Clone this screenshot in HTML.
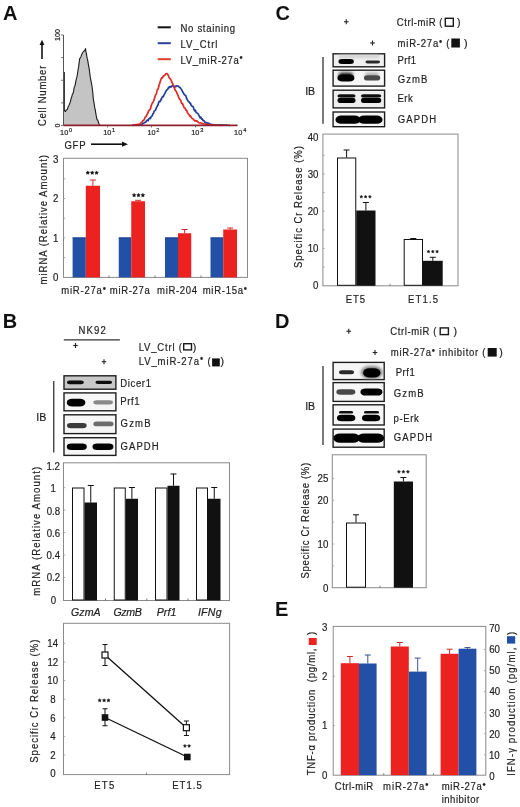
<!DOCTYPE html>
<html><head><meta charset="utf-8"><style>
html,body{margin:0;padding:0;background:#fff;}
svg{display:block;font-family:"Liberation Sans", sans-serif;will-change:transform;}
</style></head><body>
<svg width="520" height="807" viewBox="0 0 520 807">
<rect width="520" height="807" fill="#fff"/>
<text x="0" y="0" font-size="20" fill="#111" font-weight="bold" letter-spacing="0.000" transform="translate(2.90 19.70) scale(1 1)">A</text>
<line x1="157.7" y1="27.3" x2="170.8" y2="27.3" stroke="#111" stroke-width="2"/>
<text x="0" y="0" font-size="10.6" fill="#1e1e1e" stroke="#1e1e1e" stroke-width="0.2" letter-spacing="0.754" transform="translate(180.54 31.50) scale(0.9 1)">No staining</text>
<line x1="157.7" y1="43.2" x2="170.8" y2="43.2" stroke="#2a3fa0" stroke-width="2"/>
<text x="0" y="0" font-size="10.6" fill="#1e1e1e" stroke="#1e1e1e" stroke-width="0.2" letter-spacing="1.071" transform="translate(180.54 47.50) scale(0.9 1)">LV_Ctrl</text>
<line x1="157.7" y1="59.2" x2="170.8" y2="59.2" stroke="#e0402a" stroke-width="2"/>
<text x="0" y="0" font-size="10.6" fill="#1e1e1e" stroke="#1e1e1e" stroke-width="0.2" letter-spacing="0.742" transform="translate(180.54 63.50) scale(0.9 1)">LV_miR-27a<tspan baseline-shift="0.24em" font-size="0.95em">•</tspan></text>
<path d="M64.00,125.50 L64.30,72.00 L64.30,110.40 L64.95,111.10 L67.40,109.20 L69.30,104.30 L71.10,99.30 L73.00,93.10 L74.20,88.20 L76.10,79.50 L77.30,75.80 L78.60,67.10 L79.60,59.70 L81.00,57.20 L82.30,53.50 L83.50,51.00 L84.80,50.40 L85.50,48.60 L86.20,52.90 L87.20,58.50 L89.10,67.10 L90.30,77.00 L92.20,88.20 L93.40,99.30 L95.30,110.40 L97.10,119.10 L99.00,124.00 L100.00,125.50 L100.00,125.50 Z" fill="#c4c4c4" stroke="none" stroke-width="1" stroke-linejoin="round"/>
<path d="M64.30,110.30 L64.95,111.22 L65.56,111.47 L66.18,110.08 L66.79,109.69 L67.40,109.37 L68.03,106.94 L68.67,105.96 L69.30,104.56 L70.20,102.39 L71.10,98.49 L71.73,96.84 L72.37,94.35 L73.00,93.72 L73.60,91.04 L74.20,87.28 L74.83,86.26 L75.47,83.33 L76.10,79.81 L76.70,77.88 L77.30,75.11 L77.95,70.48 L78.60,67.16 L79.60,58.82 L80.30,57.83 L81.00,56.68 L81.65,54.41 L82.30,53.43 L82.90,52.13 L83.50,51.68 L84.15,50.74 L84.80,50.68 L85.50,48.60 L86.20,53.22 L87.20,58.41 L87.83,60.92 L88.47,65.23 L89.10,68.09 L89.70,72.73 L90.30,77.42 L90.93,80.36 L91.57,83.93 L92.20,87.78 L92.80,92.89 L93.40,99.83 L94.03,102.80 L94.67,107.39 L95.30,110.17 L96.20,115.67 L97.10,119.79 L97.73,119.97 L98.37,122.08 L99.00,124.00 L100.00,125.50" fill="none" stroke="#1a1a1a" stroke-width="1.1" stroke-linejoin="round"/>
<line x1="64.3" y1="72" x2="64.3" y2="111" stroke="#1a1a1a" stroke-width="1.1"/>
<path d="M140.00,125.30 L140.74,124.87 L141.49,124.44 L142.23,124.01 L142.97,123.44 L143.71,123.19 L144.46,122.62 L145.20,122.40 L145.90,121.93 L146.60,120.67 L147.30,120.00 L148.00,120.79 L148.70,119.25 L149.55,118.09 L150.40,118.54 L151.25,116.42 L152.10,116.07 L152.80,114.13 L153.50,113.24 L154.20,111.04 L154.90,110.79 L155.60,110.04 L156.45,107.62 L157.30,106.33 L158.15,104.47 L159.00,101.53 L159.87,101.75 L160.73,100.25 L161.60,98.50 L162.47,96.53 L163.33,96.76 L164.20,94.55 L165.10,92.89 L166.00,91.06 L166.83,89.86 L167.67,89.41 L168.50,87.49 L169.27,87.74 L170.03,86.46 L170.80,86.87 L171.53,86.96 L172.25,85.59 L172.97,85.87 L173.70,86.23 L174.40,87.57 L175.10,86.35 L175.80,86.57 L176.50,85.76 L177.20,86.01 L177.90,86.11 L178.60,86.38 L179.30,87.19 L180.00,87.53 L180.70,88.51 L181.57,89.50 L182.43,91.42 L183.30,92.71 L184.13,94.42 L184.97,95.21 L185.80,95.63 L186.67,98.49 L187.53,100.16 L188.40,101.51 L189.10,101.86 L189.80,103.17 L190.50,103.18 L191.20,105.44 L191.90,105.95 L192.60,106.41 L193.30,107.01 L194.00,109.63 L194.70,110.94 L195.40,110.18 L196.25,112.70 L197.10,113.02 L197.95,113.60 L198.80,114.99 L199.50,116.80 L200.20,117.87 L200.90,117.07 L201.60,119.07 L202.30,118.85 L203.15,120.71 L204.00,120.76 L204.85,122.11 L205.70,122.78 L206.44,122.60 L207.19,123.30 L207.93,123.07 L208.67,123.25 L209.41,123.80 L210.16,124.10 L210.90,124.40 L211.64,124.49 L212.39,124.57 L213.13,124.66 L213.87,124.74 L214.61,124.83 L215.36,124.91 L216.10,125.00 L216.83,125.02 L217.56,125.03 L218.29,125.05 L219.03,125.06 L219.76,125.08 L220.49,125.09 L221.22,125.11 L221.95,125.13 L222.68,125.14 L223.42,125.16 L224.15,125.17 L224.88,125.19 L225.61,125.21 L226.34,125.22 L227.07,125.24 L227.81,125.25 L228.54,125.27 L229.27,125.28 L230.00,125.30" fill="none" stroke="#1f3f9a" stroke-width="1.7" stroke-linejoin="round"/>
<path d="M132.00,125.30 L132.73,125.18 L133.45,125.06 L134.18,124.95 L134.91,124.83 L135.64,124.71 L136.36,124.59 L137.09,124.47 L137.82,124.35 L138.55,124.24 L139.27,124.12 L140.00,124.00 L140.70,123.20 L141.40,122.33 L142.10,122.13 L142.80,120.71 L143.50,120.66 L144.35,119.03 L145.20,117.12 L146.05,116.71 L146.90,114.47 L147.60,113.87 L148.30,111.74 L149.00,110.38 L149.70,109.65 L150.40,109.05 L151.25,105.50 L152.10,103.55 L152.95,102.20 L153.80,100.70 L154.67,97.65 L155.53,94.99 L156.40,93.85 L157.27,89.69 L158.13,89.02 L159.00,85.58 L159.87,82.69 L160.73,80.04 L161.60,77.82 L162.47,77.97 L163.33,75.83 L164.20,75.76 L164.90,75.18 L165.60,73.94 L166.30,73.60 L167.03,73.59 L167.77,74.55 L168.50,75.81 L169.27,77.93 L170.03,78.59 L170.80,79.53 L171.85,82.22 L172.90,84.11 L173.77,85.83 L174.63,88.86 L175.50,90.70 L176.37,91.52 L177.23,93.92 L178.10,95.55 L178.97,97.98 L179.83,99.43 L180.70,100.28 L181.57,103.36 L182.43,103.34 L183.30,105.64 L184.13,107.78 L184.97,108.04 L185.80,110.18 L186.67,110.41 L187.53,112.80 L188.40,114.13 L189.10,114.63 L189.80,116.11 L190.50,115.87 L191.20,117.51 L191.90,118.19 L192.60,118.68 L193.30,118.95 L194.00,120.21 L194.70,120.85 L195.40,120.56 L196.14,121.19 L196.89,120.73 L197.63,121.92 L198.37,122.19 L199.11,122.86 L199.86,123.02 L200.60,122.94 L201.33,123.21 L202.06,123.57 L202.79,123.40 L203.51,123.84 L204.24,124.03 L204.97,124.21 L205.70,124.40 L206.42,124.46 L207.13,124.52 L207.85,124.58 L208.56,124.65 L209.28,124.71 L209.99,124.77 L210.71,124.83 L211.42,124.89 L212.14,124.95 L212.85,125.02 L213.57,125.08 L214.28,125.14 L215.00,125.20 L215.70,125.21 L216.40,125.22 L217.10,125.23 L217.80,125.24 L218.50,125.25 L219.20,125.26 L219.90,125.27 L220.60,125.28 L221.30,125.29 L222.00,125.30" fill="none" stroke="#e02a2a" stroke-width="1.7" stroke-linejoin="round"/>
<line x1="63.5" y1="35" x2="63.5" y2="125.5" stroke="#555" stroke-width="1"/>
<line x1="61.0" y1="35" x2="63.5" y2="35" stroke="#555" stroke-width="0.8"/>
<line x1="61.0" y1="57.6" x2="63.5" y2="57.6" stroke="#555" stroke-width="0.8"/>
<line x1="61.0" y1="80.25" x2="63.5" y2="80.25" stroke="#555" stroke-width="0.8"/>
<line x1="61.0" y1="102.9" x2="63.5" y2="102.9" stroke="#555" stroke-width="0.8"/>
<line x1="61.0" y1="125.5" x2="63.5" y2="125.5" stroke="#555" stroke-width="0.8"/>
<line x1="63.5" y1="125.4" x2="237.5" y2="125.4" stroke="#8e1f2c" stroke-width="1.6"/>
<line x1="107.5" y1="125.5" x2="107.5" y2="127.5" stroke="#555" stroke-width="0.8"/>
<line x1="151.5" y1="125.5" x2="151.5" y2="127.5" stroke="#555" stroke-width="0.8"/>
<line x1="195.5" y1="125.5" x2="195.5" y2="127.5" stroke="#555" stroke-width="0.8"/>
<text x="0" y="0" font-size="8" fill="#1e1e1e" stroke="#1e1e1e" stroke-width="0.2" letter-spacing="0.022" transform="translate(60.00 40.94) rotate(-90) scale(0.9 1)">100</text>
<text x="0" y="0" font-size="8" fill="#1e1e1e" stroke="#1e1e1e" stroke-width="0.2" letter-spacing="0.000" transform="translate(60.00 127.59) rotate(-90) scale(0.9 1)">0</text>
<text x="0" y="0" font-size="8" fill="#1e1e1e" stroke="#1e1e1e" stroke-width="0.2" letter-spacing="0.000" transform="translate(60.09 134.80) scale(0.92 1)">10</text>
<text x="0" y="0" font-size="5.6" fill="#1e1e1e" stroke="#1e1e1e" stroke-width="0.2" letter-spacing="0.000" transform="translate(69.08 131.50) scale(1 1)">0</text>
<text x="0" y="0" font-size="8" fill="#1e1e1e" stroke="#1e1e1e" stroke-width="0.2" letter-spacing="0.000" transform="translate(103.19 134.80) scale(0.92 1)">10</text>
<text x="0" y="0" font-size="5.6" fill="#1e1e1e" stroke="#1e1e1e" stroke-width="0.2" letter-spacing="0.000" transform="translate(111.98 131.50) scale(1 1)">1</text>
<text x="0" y="0" font-size="8" fill="#1e1e1e" stroke="#1e1e1e" stroke-width="0.2" letter-spacing="0.000" transform="translate(147.39 134.80) scale(0.92 1)">10</text>
<text x="0" y="0" font-size="5.6" fill="#1e1e1e" stroke="#1e1e1e" stroke-width="0.2" letter-spacing="0.000" transform="translate(156.32 131.50) scale(1 1)">2</text>
<text x="0" y="0" font-size="8" fill="#1e1e1e" stroke="#1e1e1e" stroke-width="0.2" letter-spacing="0.000" transform="translate(191.19 134.80) scale(0.92 1)">10</text>
<text x="0" y="0" font-size="5.6" fill="#1e1e1e" stroke="#1e1e1e" stroke-width="0.2" letter-spacing="0.000" transform="translate(200.18 131.50) scale(1 1)">3</text>
<text x="0" y="0" font-size="8" fill="#1e1e1e" stroke="#1e1e1e" stroke-width="0.2" letter-spacing="0.000" transform="translate(234.09 134.80) scale(0.92 1)">10</text>
<text x="0" y="0" font-size="5.6" fill="#1e1e1e" stroke="#1e1e1e" stroke-width="0.2" letter-spacing="0.000" transform="translate(243.16 131.50) scale(1 1)">4</text>
<text x="0" y="0" font-size="10.6" fill="#1e1e1e" stroke="#1e1e1e" stroke-width="0.2" letter-spacing="0.825" transform="translate(45.90 126.08) rotate(-90) scale(0.9 1)">Cell Number</text>
<line x1="42" y1="59" x2="42" y2="44" stroke="#111" stroke-width="1.6"/>
<path d="M39.60,45.00 L44.40,45.00 L42.00,39.70 Z" fill="#111" stroke="none" stroke-width="1" stroke-linejoin="round"/>
<text x="0" y="0" font-size="10.6" fill="#1e1e1e" stroke="#1e1e1e" stroke-width="0.2" letter-spacing="0.861" transform="translate(64.42 148.50) scale(0.9 1)">GFP</text>
<line x1="91" y1="144.2" x2="123" y2="144.2" stroke="#111" stroke-width="1.6"/>
<path d="M122.00,141.60 L122.00,146.80 L128.00,144.20 Z" fill="#111" stroke="none" stroke-width="1" stroke-linejoin="round"/>
<rect x="63.50" y="158.30" width="184.00" height="119.10" fill="none" stroke="#8a8a8a" stroke-width="1"/>
<text x="0" y="0" font-size="11" fill="#1e1e1e" stroke="#1e1e1e" stroke-width="0.2" letter-spacing="0.000" transform="translate(53.01 281.15) scale(0.88 1)">0</text>
<text x="0" y="0" font-size="11" fill="#1e1e1e" stroke="#1e1e1e" stroke-width="0.2" letter-spacing="0.000" transform="translate(53.11 241.75) scale(0.88 1)">1</text>
<text x="0" y="0" font-size="11" fill="#1e1e1e" stroke="#1e1e1e" stroke-width="0.2" letter-spacing="0.000" transform="translate(53.11 202.35) scale(0.88 1)">2</text>
<text x="0" y="0" font-size="11" fill="#1e1e1e" stroke="#1e1e1e" stroke-width="0.2" letter-spacing="0.000" transform="translate(53.06 162.95) scale(0.88 1)">3</text>
<rect x="72.60" y="237.50" width="13.20" height="39.90" fill="#2150a6" stroke="none" stroke-width="1"/>
<line x1="72.6" y1="237.9" x2="85.8" y2="237.9" stroke="#1a3a80" stroke-width="0.8"/>
<rect x="85.80" y="185.75" width="14.20" height="91.65" fill="#ec2220" stroke="none" stroke-width="1"/>
<line x1="92.9" y1="180" x2="92.9" y2="185.75" stroke="#cc2a2a" stroke-width="1"/>
<line x1="89.9" y1="180" x2="95.9" y2="180" stroke="#cc2a2a" stroke-width="1"/>
<rect x="118.75" y="237.50" width="12.50" height="39.90" fill="#2150a6" stroke="none" stroke-width="1"/>
<line x1="118.75" y1="237.9" x2="131.25" y2="237.9" stroke="#1a3a80" stroke-width="0.8"/>
<rect x="131.25" y="201.25" width="13.75" height="76.15" fill="#ec2220" stroke="none" stroke-width="1"/>
<line x1="138.125" y1="200.3" x2="138.125" y2="201.25" stroke="#cc2a2a" stroke-width="1"/>
<line x1="135.125" y1="200.3" x2="141.125" y2="200.3" stroke="#cc2a2a" stroke-width="1"/>
<rect x="165.00" y="237.50" width="13.00" height="39.90" fill="#2150a6" stroke="none" stroke-width="1"/>
<line x1="165" y1="237.9" x2="178" y2="237.9" stroke="#1a3a80" stroke-width="0.8"/>
<rect x="178.00" y="233.25" width="13.25" height="44.15" fill="#ec2220" stroke="none" stroke-width="1"/>
<line x1="184.625" y1="229.5" x2="184.625" y2="233.25" stroke="#cc2a2a" stroke-width="1"/>
<line x1="181.625" y1="229.5" x2="187.625" y2="229.5" stroke="#cc2a2a" stroke-width="1"/>
<rect x="210.50" y="237.50" width="12.75" height="39.90" fill="#2150a6" stroke="none" stroke-width="1"/>
<line x1="210.5" y1="237.9" x2="223.25" y2="237.9" stroke="#1a3a80" stroke-width="0.8"/>
<rect x="223.25" y="229.50" width="13.75" height="47.90" fill="#ec2220" stroke="none" stroke-width="1"/>
<line x1="230.125" y1="228" x2="230.125" y2="229.5" stroke="#cc2a2a" stroke-width="1"/>
<line x1="227.125" y1="228" x2="233.125" y2="228" stroke="#cc2a2a" stroke-width="1"/>
<path d="M87.80,170.90 L88.36,172.03 L89.61,172.21 L88.70,173.09 L88.92,174.34 L87.80,173.75 L86.68,174.34 L86.90,173.09 L85.99,172.21 L87.24,172.03 Z" fill="#111" stroke="#111" stroke-width="0.5" stroke-linejoin="round"/>
<path d="M92.20,170.90 L92.76,172.03 L94.01,172.21 L93.10,173.09 L93.32,174.34 L92.20,173.75 L91.08,174.34 L91.30,173.09 L90.39,172.21 L91.64,172.03 Z" fill="#111" stroke="#111" stroke-width="0.5" stroke-linejoin="round"/>
<path d="M96.60,170.90 L97.16,172.03 L98.41,172.21 L97.50,173.09 L97.72,174.34 L96.60,173.75 L95.48,174.34 L95.70,173.09 L94.79,172.21 L96.04,172.03 Z" fill="#111" stroke="#111" stroke-width="0.5" stroke-linejoin="round"/>
<path d="M134.10,193.30 L134.66,194.43 L135.91,194.61 L135.00,195.49 L135.22,196.74 L134.10,196.15 L132.98,196.74 L133.20,195.49 L132.29,194.61 L133.54,194.43 Z" fill="#111" stroke="#111" stroke-width="0.5" stroke-linejoin="round"/>
<path d="M138.50,193.30 L139.06,194.43 L140.31,194.61 L139.40,195.49 L139.62,196.74 L138.50,196.15 L137.38,196.74 L137.60,195.49 L136.69,194.61 L137.94,194.43 Z" fill="#111" stroke="#111" stroke-width="0.5" stroke-linejoin="round"/>
<path d="M142.90,193.30 L143.46,194.43 L144.71,194.61 L143.80,195.49 L144.02,196.74 L142.90,196.15 L141.78,196.74 L142.00,195.49 L141.09,194.61 L142.34,194.43 Z" fill="#111" stroke="#111" stroke-width="0.5" stroke-linejoin="round"/>
<text x="0" y="0" font-size="10.6" fill="#1e1e1e" stroke="#1e1e1e" stroke-width="0.2" letter-spacing="1.074" transform="translate(46.70 284.42) rotate(-90) scale(0.9 1)">miRNA (Relative Amount)</text>
<text x="0" y="0" font-size="10.6" fill="#1e1e1e" stroke="#1e1e1e" stroke-width="0.2" letter-spacing="0.842" transform="translate(61.28 293.80) scale(0.9 1)">miR-27a<tspan baseline-shift="0.24em" font-size="0.95em">•</tspan></text>
<text x="0" y="0" font-size="10.6" fill="#1e1e1e" stroke="#1e1e1e" stroke-width="0.2" letter-spacing="0.752" transform="translate(109.78 293.80) scale(0.9 1)">miR-27a</text>
<text x="0" y="0" font-size="10.6" fill="#1e1e1e" stroke="#1e1e1e" stroke-width="0.2" letter-spacing="0.712" transform="translate(157.08 293.80) scale(0.9 1)">miR-204</text>
<text x="0" y="0" font-size="10.6" fill="#1e1e1e" stroke="#1e1e1e" stroke-width="0.2" letter-spacing="0.794" transform="translate(202.68 293.80) scale(0.9 1)">miR-15a<tspan baseline-shift="0.24em" font-size="0.95em">•</tspan></text>
<text x="0" y="0" font-size="20" fill="#111" font-weight="bold" letter-spacing="0.000" transform="translate(2.80 328.20) scale(1 1)">B</text>
<text x="0" y="0" font-size="10.6" fill="#1e1e1e" stroke="#1e1e1e" stroke-width="0.2" letter-spacing="1.330" transform="translate(78.44 334.10) scale(0.9 1)">NK92</text>
<line x1="63.8" y1="339.9" x2="119.9" y2="339.9" stroke="#333" stroke-width="1.4"/>
<line x1="73.2" y1="345.5" x2="77.8" y2="345.5" stroke="#222" stroke-width="1.1"/>
<line x1="75.5" y1="343.0" x2="75.5" y2="348.0" stroke="#222" stroke-width="1.1"/>
<line x1="101.7" y1="361.7" x2="106.3" y2="361.7" stroke="#222" stroke-width="1.1"/>
<line x1="104" y1="359.2" x2="104" y2="364.2" stroke="#222" stroke-width="1.1"/>
<text x="0" y="0" font-size="10.6" fill="#1e1e1e" stroke="#1e1e1e" stroke-width="0.2" letter-spacing="0.888" transform="translate(138.64 350.50) scale(0.9 1)">LV_Ctrl (</text>
<text x="0" y="0" font-size="10.6" fill="#1e1e1e" stroke="#1e1e1e" stroke-width="0.2" letter-spacing="0.998" transform="translate(138.64 364.60) scale(0.9 1)">LV_miR-27a<tspan baseline-shift="0.24em" font-size="0.95em">•</tspan> (</text>
<text x="0" y="0" font-size="10.6" fill="#1e1e1e" stroke="#1e1e1e" stroke-width="0.2" letter-spacing="-0.033" transform="translate(36.35 420.90) scale(1 1)">IB</text>
<line x1="53.75" y1="381" x2="53.75" y2="452.5" stroke="#333" stroke-width="1.3"/>
<text x="0" y="0" font-size="10.6" fill="#1e1e1e" stroke="#1e1e1e" stroke-width="0.2" letter-spacing="0.682" transform="translate(120.34 386.60) scale(0.9 1)">Dicer1</text>
<text x="0" y="0" font-size="10.6" fill="#1e1e1e" stroke="#1e1e1e" stroke-width="0.2" letter-spacing="0.642" transform="translate(120.34 404.80) scale(0.9 1)">Prf1</text>
<text x="0" y="0" font-size="10.6" fill="#1e1e1e" stroke="#1e1e1e" stroke-width="0.2" letter-spacing="1.252" transform="translate(120.62 427.20) scale(0.9 1)">GzmB</text>
<text x="0" y="0" font-size="10.6" fill="#1e1e1e" stroke="#1e1e1e" stroke-width="0.2" letter-spacing="1.118" transform="translate(120.62 450.10) scale(0.9 1)">GAPDH</text>
<rect x="63.50" y="462.80" width="166.00" height="137.70" fill="none" stroke="#8a8a8a" stroke-width="1"/>
<text x="0" y="0" font-size="11" fill="#1e1e1e" stroke="#1e1e1e" stroke-width="0.2" letter-spacing="0.000" transform="translate(46.55 469.95) scale(0.88 1)">1.2</text>
<text x="0" y="0" font-size="11" fill="#1e1e1e" stroke="#1e1e1e" stroke-width="0.2" letter-spacing="0.000" transform="translate(50.59 492.35) scale(0.88 1)">1</text>
<text x="0" y="0" font-size="11" fill="#1e1e1e" stroke="#1e1e1e" stroke-width="0.2" letter-spacing="0.000" transform="translate(46.67 514.65) scale(0.88 1)">0.8</text>
<text x="0" y="0" font-size="11" fill="#1e1e1e" stroke="#1e1e1e" stroke-width="0.2" letter-spacing="0.000" transform="translate(46.70 536.95) scale(0.88 1)">0.6</text>
<text x="0" y="0" font-size="11" fill="#1e1e1e" stroke="#1e1e1e" stroke-width="0.2" letter-spacing="0.000" transform="translate(46.62 559.25) scale(0.88 1)">0.4</text>
<text x="0" y="0" font-size="11" fill="#1e1e1e" stroke="#1e1e1e" stroke-width="0.2" letter-spacing="0.000" transform="translate(46.72 581.45) scale(0.88 1)">0.2</text>
<text x="0" y="0" font-size="11" fill="#1e1e1e" stroke="#1e1e1e" stroke-width="0.2" letter-spacing="0.000" transform="translate(50.71 603.75) scale(0.88 1)">0</text>
<rect x="72.50" y="488.00" width="11.50" height="112.00" fill="#fff" stroke="#111" stroke-width="1"/>
<rect x="84.50" y="502.50" width="12.50" height="98.00" fill="#111" stroke="none" stroke-width="1"/>
<line x1="90.75" y1="485.5" x2="90.75" y2="502.5" stroke="#111" stroke-width="1"/>
<line x1="87.75" y1="485.5" x2="93.75" y2="485.5" stroke="#111" stroke-width="1"/>
<rect x="114.25" y="488.00" width="11.00" height="112.00" fill="#fff" stroke="#111" stroke-width="1"/>
<rect x="125.75" y="498.75" width="12.25" height="101.75" fill="#111" stroke="none" stroke-width="1"/>
<line x1="131.875" y1="487.5" x2="131.875" y2="498.75" stroke="#111" stroke-width="1"/>
<line x1="128.875" y1="487.5" x2="134.875" y2="487.5" stroke="#111" stroke-width="1"/>
<rect x="155.50" y="488.00" width="11.50" height="112.00" fill="#fff" stroke="#111" stroke-width="1"/>
<rect x="167.50" y="485.75" width="12.00" height="114.75" fill="#111" stroke="none" stroke-width="1"/>
<line x1="173.5" y1="474" x2="173.5" y2="485.75" stroke="#111" stroke-width="1"/>
<line x1="170.5" y1="474" x2="176.5" y2="474" stroke="#111" stroke-width="1"/>
<rect x="196.50" y="488.00" width="11.00" height="112.00" fill="#fff" stroke="#111" stroke-width="1"/>
<rect x="208.00" y="498.75" width="12.50" height="101.75" fill="#111" stroke="none" stroke-width="1"/>
<line x1="214.25" y1="487.5" x2="214.25" y2="498.75" stroke="#111" stroke-width="1"/>
<line x1="211.25" y1="487.5" x2="217.25" y2="487.5" stroke="#111" stroke-width="1"/>
<text x="0" y="0" font-size="10.6" fill="#1e1e1e" stroke="#1e1e1e" stroke-width="0.2" letter-spacing="1.212" transform="translate(40.40 595.72) rotate(-90) scale(0.9 1)">mRNA (Relative Amount)</text>
<text x="0" y="0" font-size="10.6" fill="#1e1e1e" stroke="#1e1e1e" stroke-width="0.2" font-style="italic" letter-spacing="0.015" transform="translate(71.07 615.80) scale(1 1)">GzmA</text>
<text x="0" y="0" font-size="10.6" fill="#1e1e1e" stroke="#1e1e1e" stroke-width="0.2" font-style="italic" letter-spacing="-0.356" transform="translate(113.47 615.80) scale(1 1)">GzmB</text>
<text x="0" y="0" font-size="10.6" fill="#1e1e1e" stroke="#1e1e1e" stroke-width="0.2" font-style="italic" letter-spacing="0.023" transform="translate(156.78 615.80) scale(1 1)">Prf1</text>
<text x="0" y="0" font-size="10.6" fill="#1e1e1e" stroke="#1e1e1e" stroke-width="0.2" font-style="italic" letter-spacing="0.260" transform="translate(197.88 615.80) scale(1 1)">IFNg</text>
<rect x="63.50" y="623.30" width="166.10" height="151.30" fill="none" stroke="#8a8a8a" stroke-width="1"/>
<text x="0" y="0" font-size="11" fill="#1e1e1e" stroke="#1e1e1e" stroke-width="0.2" letter-spacing="0.000" transform="translate(50.21 777.45) scale(0.88 1)">0</text>
<text x="0" y="0" font-size="11" fill="#1e1e1e" stroke="#1e1e1e" stroke-width="0.2" letter-spacing="0.000" transform="translate(50.21 758.85) scale(0.88 1)">2</text>
<text x="0" y="0" font-size="11" fill="#1e1e1e" stroke="#1e1e1e" stroke-width="0.2" letter-spacing="0.000" transform="translate(50.24 740.25) scale(0.88 1)">4</text>
<text x="0" y="0" font-size="11" fill="#1e1e1e" stroke="#1e1e1e" stroke-width="0.2" letter-spacing="0.000" transform="translate(50.19 721.65) scale(0.88 1)">6</text>
<text x="0" y="0" font-size="11" fill="#1e1e1e" stroke="#1e1e1e" stroke-width="0.2" letter-spacing="0.000" transform="translate(50.19 703.05) scale(0.88 1)">8</text>
<text x="0" y="0" font-size="11" fill="#1e1e1e" stroke="#1e1e1e" stroke-width="0.2" letter-spacing="0.000" transform="translate(47.36 684.45) scale(0.88 1)">10</text>
<text x="0" y="0" font-size="11" fill="#1e1e1e" stroke="#1e1e1e" stroke-width="0.2" letter-spacing="0.000" transform="translate(47.41 665.85) scale(0.88 1)">12</text>
<text x="0" y="0" font-size="11" fill="#1e1e1e" stroke="#1e1e1e" stroke-width="0.2" letter-spacing="0.000" transform="translate(47.31 647.25) scale(0.88 1)">14</text>
<text x="0" y="0" font-size="10.6" fill="#1e1e1e" stroke="#1e1e1e" stroke-width="0.2" letter-spacing="1.105" transform="translate(38.20 762.73) rotate(-90) scale(0.9 1)">Specific Cr Release (%)</text>
<line x1="105" y1="655" x2="186.4" y2="727.7" stroke="#111" stroke-width="1.3"/>
<line x1="105" y1="717.5" x2="187.3" y2="757" stroke="#111" stroke-width="1.3"/>
<line x1="105" y1="644.5" x2="105" y2="665.5" stroke="#111" stroke-width="1"/>
<line x1="102.5" y1="644.5" x2="107.5" y2="644.5" stroke="#111" stroke-width="1"/>
<line x1="102.5" y1="665.5" x2="107.5" y2="665.5" stroke="#111" stroke-width="1"/>
<rect x="102.00" y="652.00" width="6.00" height="6.00" fill="#fff" stroke="#111" stroke-width="1.2"/>
<line x1="105" y1="708.75" x2="105" y2="725.75" stroke="#111" stroke-width="1"/>
<line x1="102.5" y1="708.75" x2="107.5" y2="708.75" stroke="#111" stroke-width="1"/>
<line x1="102.5" y1="725.75" x2="107.5" y2="725.75" stroke="#111" stroke-width="1"/>
<rect x="101.70" y="714.20" width="6.60" height="6.60" fill="#111" stroke="none" stroke-width="1"/>
<line x1="186.4" y1="721" x2="186.4" y2="735.5" stroke="#111" stroke-width="1"/>
<line x1="183.9" y1="721" x2="188.9" y2="721" stroke="#111" stroke-width="1"/>
<line x1="183.9" y1="735.5" x2="188.9" y2="735.5" stroke="#111" stroke-width="1"/>
<rect x="183.40" y="724.70" width="6.00" height="6.00" fill="#fff" stroke="#111" stroke-width="1.2"/>
<rect x="184.00" y="753.70" width="6.60" height="6.60" fill="#111" stroke="none" stroke-width="1"/>
<path d="M99.70,698.70 L100.20,699.71 L101.32,699.87 L100.51,700.66 L100.70,701.78 L99.70,701.25 L98.70,701.78 L98.89,700.66 L98.08,699.87 L99.20,699.71 Z" fill="#111" stroke="#111" stroke-width="0.5" stroke-linejoin="round"/>
<path d="M104.10,698.70 L104.60,699.71 L105.72,699.87 L104.91,700.66 L105.10,701.78 L104.10,701.25 L103.10,701.78 L103.29,700.66 L102.48,699.87 L103.60,699.71 Z" fill="#111" stroke="#111" stroke-width="0.5" stroke-linejoin="round"/>
<path d="M108.50,698.70 L109.00,699.71 L110.12,699.87 L109.31,700.66 L109.50,701.78 L108.50,701.25 L107.50,701.78 L107.69,700.66 L106.88,699.87 L108.00,699.71 Z" fill="#111" stroke="#111" stroke-width="0.5" stroke-linejoin="round"/>
<path d="M184.90,744.40 L185.37,745.35 L186.42,745.51 L185.66,746.25 L185.84,747.29 L184.90,746.80 L183.96,747.29 L184.14,746.25 L183.38,745.51 L184.43,745.35 Z" fill="#111" stroke="#111" stroke-width="0.5" stroke-linejoin="round"/>
<path d="M189.10,744.40 L189.57,745.35 L190.62,745.51 L189.86,746.25 L190.04,747.29 L189.10,746.80 L188.16,747.29 L188.34,746.25 L187.58,745.51 L188.63,745.35 Z" fill="#111" stroke="#111" stroke-width="0.5" stroke-linejoin="round"/>
<text x="0" y="0" font-size="10.6" fill="#1e1e1e" stroke="#1e1e1e" stroke-width="0.2" letter-spacing="1.410" transform="translate(94.24 788.50) scale(0.9 1)">ET5</text>
<text x="0" y="0" font-size="10.6" fill="#1e1e1e" stroke="#1e1e1e" stroke-width="0.2" letter-spacing="1.200" transform="translate(172.14 788.50) scale(0.9 1)">ET1.5</text>
<text x="0" y="0" font-size="20" fill="#111" font-weight="bold" letter-spacing="0.000" transform="translate(275.40 19.80) scale(1 1)">C</text>
<line x1="343.95" y1="21.75" x2="348.55" y2="21.75" stroke="#222" stroke-width="1.1"/>
<line x1="346.25" y1="19.25" x2="346.25" y2="24.25" stroke="#222" stroke-width="1.1"/>
<line x1="370.2" y1="43" x2="374.8" y2="43" stroke="#222" stroke-width="1.1"/>
<line x1="372.5" y1="40.5" x2="372.5" y2="45.5" stroke="#222" stroke-width="1.1"/>
<text x="0" y="0" font-size="10.6" fill="#1e1e1e" stroke="#1e1e1e" stroke-width="0.2" letter-spacing="0.598" transform="translate(396.82 26.40) scale(0.9 1)">Ctrl-miR (</text>
<text x="0" y="0" font-size="10.6" fill="#1e1e1e" stroke="#1e1e1e" stroke-width="0.2" letter-spacing="0.851" transform="translate(397.58 47.20) scale(0.9 1)">miR-27a<tspan baseline-shift="0.24em" font-size="0.95em">•</tspan> (</text>
<text x="0" y="0" font-size="10.6" fill="#1e1e1e" stroke="#1e1e1e" stroke-width="0.2" letter-spacing="-0.083" transform="translate(305.20 94.50) scale(1 1)">IB</text>
<line x1="323" y1="57" x2="323" y2="123.75" stroke="#333" stroke-width="1.3"/>
<text x="0" y="0" font-size="10.6" fill="#1e1e1e" stroke="#1e1e1e" stroke-width="0.2" letter-spacing="0.346" transform="translate(397.54 64.30) scale(0.9 1)">Prf1</text>
<text x="0" y="0" font-size="10.6" fill="#1e1e1e" stroke="#1e1e1e" stroke-width="0.2" letter-spacing="1.104" transform="translate(397.82 83.30) scale(0.9 1)">GzmB</text>
<text x="0" y="0" font-size="10.6" fill="#1e1e1e" stroke="#1e1e1e" stroke-width="0.2" letter-spacing="0.474" transform="translate(397.54 102.40) scale(0.9 1)">Erk</text>
<text x="0" y="0" font-size="10.6" fill="#1e1e1e" stroke="#1e1e1e" stroke-width="0.2" letter-spacing="1.202" transform="translate(397.82 123.00) scale(0.9 1)">GAPDH</text>
<rect x="322.90" y="134.10" width="135.10" height="151.70" fill="none" stroke="#8a8a8a" stroke-width="1"/>
<text x="0" y="0" font-size="11" fill="#1e1e1e" stroke="#1e1e1e" stroke-width="0.2" letter-spacing="0.000" transform="translate(313.01 289.45) scale(0.88 1)">0</text>
<text x="0" y="0" font-size="11" fill="#1e1e1e" stroke="#1e1e1e" stroke-width="0.2" letter-spacing="0.000" transform="translate(307.64 252.25) scale(0.88 1)">10</text>
<text x="0" y="0" font-size="11" fill="#1e1e1e" stroke="#1e1e1e" stroke-width="0.2" letter-spacing="0.000" transform="translate(307.64 215.05) scale(0.88 1)">20</text>
<text x="0" y="0" font-size="11" fill="#1e1e1e" stroke="#1e1e1e" stroke-width="0.2" letter-spacing="0.000" transform="translate(307.64 177.85) scale(0.88 1)">30</text>
<text x="0" y="0" font-size="11" fill="#1e1e1e" stroke="#1e1e1e" stroke-width="0.2" letter-spacing="0.000" transform="translate(307.64 140.65) scale(0.88 1)">40</text>
<text x="0" y="0" font-size="10.6" fill="#1e1e1e" stroke="#1e1e1e" stroke-width="0.2" letter-spacing="1.045" transform="translate(302.40 268.03) rotate(-90) scale(0.9 1)">Specific Cr Release (%)</text>
<rect x="337.50" y="158.00" width="18.25" height="127.30" fill="#fff" stroke="#111" stroke-width="1"/>
<line x1="346.6" y1="150" x2="346.6" y2="157.5" stroke="#111" stroke-width="1"/>
<line x1="343.6" y1="150" x2="349.6" y2="150" stroke="#111" stroke-width="1"/>
<rect x="356.25" y="210.50" width="19.25" height="75.30" fill="#111" stroke="none" stroke-width="1"/>
<line x1="365.9" y1="202.5" x2="365.9" y2="210.5" stroke="#111" stroke-width="1"/>
<line x1="362.9" y1="202.5" x2="368.9" y2="202.5" stroke="#111" stroke-width="1"/>
<rect x="404.20" y="239.50" width="18.30" height="45.80" fill="#fff" stroke="#111" stroke-width="1"/>
<line x1="413.3" y1="238.5" x2="413.3" y2="239" stroke="#111" stroke-width="1"/>
<line x1="410.3" y1="238.5" x2="416.3" y2="238.5" stroke="#111" stroke-width="1"/>
<rect x="423.00" y="260.80" width="19.70" height="25.00" fill="#111" stroke="none" stroke-width="1"/>
<line x1="432.8" y1="257.3" x2="432.8" y2="260.8" stroke="#111" stroke-width="1"/>
<line x1="429.8" y1="257.3" x2="435.8" y2="257.3" stroke="#111" stroke-width="1"/>
<path d="M361.30,195.30 L361.74,196.19 L362.73,196.34 L362.01,197.03 L362.18,198.01 L361.30,197.55 L360.42,198.01 L360.59,197.03 L359.87,196.34 L360.86,196.19 Z" fill="#111" stroke="#111" stroke-width="0.5" stroke-linejoin="round"/>
<path d="M365.60,195.30 L366.04,196.19 L367.03,196.34 L366.31,197.03 L366.48,198.01 L365.60,197.55 L364.72,198.01 L364.89,197.03 L364.17,196.34 L365.16,196.19 Z" fill="#111" stroke="#111" stroke-width="0.5" stroke-linejoin="round"/>
<path d="M369.90,195.30 L370.34,196.19 L371.33,196.34 L370.61,197.03 L370.78,198.01 L369.90,197.55 L369.02,198.01 L369.19,197.03 L368.47,196.34 L369.46,196.19 Z" fill="#111" stroke="#111" stroke-width="0.5" stroke-linejoin="round"/>
<path d="M428.50,250.10 L428.94,250.99 L429.93,251.14 L429.21,251.83 L429.38,252.81 L428.50,252.35 L427.62,252.81 L427.79,251.83 L427.07,251.14 L428.06,250.99 Z" fill="#111" stroke="#111" stroke-width="0.5" stroke-linejoin="round"/>
<path d="M432.80,250.10 L433.24,250.99 L434.23,251.14 L433.51,251.83 L433.68,252.81 L432.80,252.35 L431.92,252.81 L432.09,251.83 L431.37,251.14 L432.36,250.99 Z" fill="#111" stroke="#111" stroke-width="0.5" stroke-linejoin="round"/>
<path d="M437.10,250.10 L437.54,250.99 L438.53,251.14 L437.81,251.83 L437.98,252.81 L437.10,252.35 L436.22,252.81 L436.39,251.83 L435.67,251.14 L436.66,250.99 Z" fill="#111" stroke="#111" stroke-width="0.5" stroke-linejoin="round"/>
<text x="0" y="0" font-size="10.6" fill="#1e1e1e" stroke="#1e1e1e" stroke-width="0.2" letter-spacing="1.022" transform="translate(345.64 302.50) scale(0.9 1)">ET5</text>
<text x="0" y="0" font-size="10.6" fill="#1e1e1e" stroke="#1e1e1e" stroke-width="0.2" letter-spacing="1.284" transform="translate(407.94 303.00) scale(0.9 1)">ET1.5</text>
<text x="0" y="0" font-size="20" fill="#111" font-weight="bold" letter-spacing="0.000" transform="translate(275.10 328.00) scale(1 1)">D</text>
<line x1="346.45" y1="331.25" x2="351.05" y2="331.25" stroke="#222" stroke-width="1.1"/>
<line x1="348.75" y1="328.75" x2="348.75" y2="333.75" stroke="#222" stroke-width="1.1"/>
<line x1="372.7" y1="352.5" x2="377.3" y2="352.5" stroke="#222" stroke-width="1.1"/>
<line x1="375" y1="350.0" x2="375" y2="355.0" stroke="#222" stroke-width="1.1"/>
<text x="0" y="0" font-size="10.6" fill="#1e1e1e" stroke="#1e1e1e" stroke-width="0.2" letter-spacing="0.672" transform="translate(390.22 334.90) scale(0.9 1)">Ctrl-miR (</text>
<text x="0" y="0" font-size="10.6" fill="#1e1e1e" stroke="#1e1e1e" stroke-width="0.2" letter-spacing="0.797" transform="translate(390.78 356.00) scale(0.9 1)">miR-27a<tspan baseline-shift="0.24em" font-size="0.95em">•</tspan> inhibitor (</text>
<text x="0" y="0" font-size="10.6" fill="#1e1e1e" stroke="#1e1e1e" stroke-width="0.2" letter-spacing="-0.083" transform="translate(305.20 410.00) scale(1 1)">IB</text>
<line x1="323" y1="366" x2="323" y2="445" stroke="#333" stroke-width="1.3"/>
<text x="0" y="0" font-size="10.6" fill="#1e1e1e" stroke="#1e1e1e" stroke-width="0.2" letter-spacing="0.642" transform="translate(395.64 375.60) scale(0.9 1)">Prf1</text>
<text x="0" y="0" font-size="10.6" fill="#1e1e1e" stroke="#1e1e1e" stroke-width="0.2" letter-spacing="1.252" transform="translate(393.72 397.40) scale(0.9 1)">GzmB</text>
<text x="0" y="0" font-size="10.6" fill="#1e1e1e" stroke="#1e1e1e" stroke-width="0.2" letter-spacing="0.672" transform="translate(393.58 421.70) scale(0.9 1)">p-Erk</text>
<text x="0" y="0" font-size="10.6" fill="#1e1e1e" stroke="#1e1e1e" stroke-width="0.2" letter-spacing="1.229" transform="translate(393.72 441.40) scale(0.9 1)">GAPDH</text>
<rect x="332.30" y="454.80" width="93.90" height="132.90" fill="none" stroke="#8a8a8a" stroke-width="1"/>
<text x="0" y="0" font-size="11" fill="#1e1e1e" stroke="#1e1e1e" stroke-width="0.2" letter-spacing="0.000" transform="translate(322.91 591.55) scale(0.88 1)">0</text>
<text x="0" y="0" font-size="11" fill="#1e1e1e" stroke="#1e1e1e" stroke-width="0.2" letter-spacing="0.000" transform="translate(317.54 547.85) scale(0.88 1)">10</text>
<text x="0" y="0" font-size="11" fill="#1e1e1e" stroke="#1e1e1e" stroke-width="0.2" letter-spacing="0.000" transform="translate(317.54 504.15) scale(0.88 1)">20</text>
<text x="0" y="0" font-size="11" fill="#1e1e1e" stroke="#1e1e1e" stroke-width="0.2" letter-spacing="0.000" transform="translate(317.54 482.30) scale(0.88 1)">25</text>
<text x="0" y="0" font-size="10.6" fill="#1e1e1e" stroke="#1e1e1e" stroke-width="0.2" letter-spacing="0.731" transform="translate(308.80 578.53) rotate(-90) scale(0.9 1)">Specific Cr Release (%)</text>
<rect x="346.50" y="523.00" width="19.00" height="64.20" fill="#fff" stroke="#111" stroke-width="1"/>
<line x1="356" y1="514.8" x2="356" y2="522.5" stroke="#111" stroke-width="1"/>
<line x1="353.0" y1="514.8" x2="359.0" y2="514.8" stroke="#111" stroke-width="1"/>
<rect x="393.80" y="481.50" width="19.20" height="106.20" fill="#111" stroke="none" stroke-width="1"/>
<line x1="403.4" y1="477.5" x2="403.4" y2="481.5" stroke="#111" stroke-width="1"/>
<line x1="400.4" y1="477.5" x2="406.4" y2="477.5" stroke="#111" stroke-width="1"/>
<path d="M398.90,470.20 L399.37,471.15 L400.42,471.31 L399.66,472.05 L399.84,473.09 L398.90,472.60 L397.96,473.09 L398.14,472.05 L397.38,471.31 L398.43,471.15 Z" fill="#111" stroke="#111" stroke-width="0.5" stroke-linejoin="round"/>
<path d="M403.40,470.20 L403.87,471.15 L404.92,471.31 L404.16,472.05 L404.34,473.09 L403.40,472.60 L402.46,473.09 L402.64,472.05 L401.88,471.31 L402.93,471.15 Z" fill="#111" stroke="#111" stroke-width="0.5" stroke-linejoin="round"/>
<path d="M407.90,470.20 L408.37,471.15 L409.42,471.31 L408.66,472.05 L408.84,473.09 L407.90,472.60 L406.96,473.09 L407.14,472.05 L406.38,471.31 L407.43,471.15 Z" fill="#111" stroke="#111" stroke-width="0.5" stroke-linejoin="round"/>
<text x="0" y="0" font-size="20" fill="#111" font-weight="bold" letter-spacing="0.000" transform="translate(275.10 616.40) scale(1 1)">E</text>
<rect x="333.20" y="626.40" width="152.60" height="148.80" fill="none" stroke="#8a8a8a" stroke-width="1"/>
<text x="0" y="0" font-size="11" fill="#1e1e1e" stroke="#1e1e1e" stroke-width="0.2" letter-spacing="0.000" transform="translate(322.01 778.85) scale(0.88 1)">0</text>
<text x="0" y="0" font-size="11" fill="#1e1e1e" stroke="#1e1e1e" stroke-width="0.2" letter-spacing="0.000" transform="translate(322.11 729.45) scale(0.88 1)">1</text>
<text x="0" y="0" font-size="11" fill="#1e1e1e" stroke="#1e1e1e" stroke-width="0.2" letter-spacing="0.000" transform="translate(322.11 680.05) scale(0.88 1)">2</text>
<text x="0" y="0" font-size="11" fill="#1e1e1e" stroke="#1e1e1e" stroke-width="0.2" letter-spacing="0.000" transform="translate(322.06 630.65) scale(0.88 1)">3</text>
<text x="0" y="0" font-size="11" fill="#1e1e1e" stroke="#1e1e1e" stroke-width="0.2" letter-spacing="0.000" transform="translate(489.31 779.65) scale(0.88 1)">0</text>
<text x="0" y="0" font-size="11" fill="#1e1e1e" stroke="#1e1e1e" stroke-width="0.2" letter-spacing="0.000" transform="translate(488.97 758.61) scale(0.88 1)">10</text>
<text x="0" y="0" font-size="11" fill="#1e1e1e" stroke="#1e1e1e" stroke-width="0.2" letter-spacing="0.000" transform="translate(489.22 737.57) scale(0.88 1)">20</text>
<text x="0" y="0" font-size="11" fill="#1e1e1e" stroke="#1e1e1e" stroke-width="0.2" letter-spacing="0.000" transform="translate(489.31 716.53) scale(0.88 1)">30</text>
<text x="0" y="0" font-size="11" fill="#1e1e1e" stroke="#1e1e1e" stroke-width="0.2" letter-spacing="0.000" transform="translate(489.46 695.49) scale(0.88 1)">40</text>
<text x="0" y="0" font-size="11" fill="#1e1e1e" stroke="#1e1e1e" stroke-width="0.2" letter-spacing="0.000" transform="translate(489.31 674.45) scale(0.88 1)">50</text>
<text x="0" y="0" font-size="11" fill="#1e1e1e" stroke="#1e1e1e" stroke-width="0.2" letter-spacing="0.000" transform="translate(489.22 653.41) scale(0.88 1)">60</text>
<text x="0" y="0" font-size="11" fill="#1e1e1e" stroke="#1e1e1e" stroke-width="0.2" letter-spacing="0.000" transform="translate(489.22 632.37) scale(0.88 1)">70</text>
<rect x="340.80" y="663.20" width="18.20" height="112.00" fill="#ec2220" stroke="none" stroke-width="1"/>
<line x1="349.9" y1="656.5" x2="349.9" y2="663.2" stroke="#cc2a2a" stroke-width="1"/>
<line x1="346.9" y1="656.5" x2="352.9" y2="656.5" stroke="#cc2a2a" stroke-width="1"/>
<rect x="359.00" y="663.50" width="17.60" height="111.70" fill="#2150a6" stroke="none" stroke-width="1"/>
<line x1="367.8" y1="655" x2="367.8" y2="663.5" stroke="#3a4f90" stroke-width="1"/>
<line x1="364.8" y1="655" x2="370.8" y2="655" stroke="#3a4f90" stroke-width="1"/>
<rect x="390.80" y="646.50" width="18.00" height="128.70" fill="#ec2220" stroke="none" stroke-width="1"/>
<line x1="399.8" y1="642.5" x2="399.8" y2="646.5" stroke="#cc2a2a" stroke-width="1"/>
<line x1="396.8" y1="642.5" x2="402.8" y2="642.5" stroke="#cc2a2a" stroke-width="1"/>
<rect x="408.80" y="671.60" width="17.80" height="103.60" fill="#2150a6" stroke="none" stroke-width="1"/>
<line x1="417.70000000000005" y1="658.1" x2="417.70000000000005" y2="671.6" stroke="#3a4f90" stroke-width="1"/>
<line x1="414.70000000000005" y1="658.1" x2="420.70000000000005" y2="658.1" stroke="#3a4f90" stroke-width="1"/>
<rect x="440.60" y="653.80" width="18.00" height="121.40" fill="#ec2220" stroke="none" stroke-width="1"/>
<line x1="449.6" y1="649.2" x2="449.6" y2="653.8" stroke="#cc2a2a" stroke-width="1"/>
<line x1="446.6" y1="649.2" x2="452.6" y2="649.2" stroke="#cc2a2a" stroke-width="1"/>
<rect x="458.60" y="648.70" width="17.80" height="126.50" fill="#2150a6" stroke="none" stroke-width="1"/>
<line x1="467.5" y1="647.6" x2="467.5" y2="648.7" stroke="#3a4f90" stroke-width="1"/>
<line x1="464.5" y1="647.6" x2="470.5" y2="647.6" stroke="#3a4f90" stroke-width="1"/>
<text x="0" y="0" font-size="10.6" fill="#1e1e1e" stroke="#1e1e1e" stroke-width="0.2" letter-spacing="0.824" transform="translate(315.20 775.24) rotate(-90) scale(0.9 1)">TNF-α production  (pg/ml,</text>
<text x="0" y="0" font-size="10.6" fill="#1e1e1e" stroke="#1e1e1e" stroke-width="0.2" letter-spacing="1.254" transform="translate(514.80 775.86) rotate(-90) scale(0.9 1)">IFN-γ production (pg/ml,</text>
<text x="0" y="0" font-size="10.6" fill="#1e1e1e" stroke="#1e1e1e" stroke-width="0.2" letter-spacing="0.531" transform="translate(334.82 790.30) scale(0.9 1)">Ctrl-miR</text>
<text x="0" y="0" font-size="10.6" fill="#1e1e1e" stroke="#1e1e1e" stroke-width="0.2" letter-spacing="0.984" transform="translate(383.08 790.30) scale(0.9 1)">miR-27a<tspan baseline-shift="0.24em" font-size="0.95em">•</tspan></text>
<text x="0" y="0" font-size="10.6" fill="#1e1e1e" stroke="#1e1e1e" stroke-width="0.2" letter-spacing="0.746" transform="translate(441.68 790.00) scale(0.9 1)">miR-27a<tspan baseline-shift="0.24em" font-size="0.95em">•</tspan></text>
<text x="0" y="0" font-size="10.6" fill="#1e1e1e" stroke="#1e1e1e" stroke-width="0.2" letter-spacing="0.566" transform="translate(441.68 802.70) scale(0.9 1)">inhibitor</text>
<line x1="63.5" y1="257.6" x2="65.3" y2="257.6" stroke="#999" stroke-width="0.8"/>
<line x1="63.5" y1="237.9" x2="65.3" y2="237.9" stroke="#999" stroke-width="0.8"/>
<line x1="63.5" y1="218.20000000000002" x2="65.3" y2="218.20000000000002" stroke="#999" stroke-width="0.8"/>
<line x1="63.5" y1="198.5" x2="65.3" y2="198.5" stroke="#999" stroke-width="0.8"/>
<line x1="63.5" y1="178.8" x2="65.3" y2="178.8" stroke="#999" stroke-width="0.8"/>
<line x1="63.5" y1="577.4499999999999" x2="65.3" y2="577.4499999999999" stroke="#999" stroke-width="0.8"/>
<line x1="63.5" y1="555.0" x2="65.3" y2="555.0" stroke="#999" stroke-width="0.8"/>
<line x1="63.5" y1="532.55" x2="65.3" y2="532.55" stroke="#999" stroke-width="0.8"/>
<line x1="63.5" y1="510.09999999999997" x2="65.3" y2="510.09999999999997" stroke="#999" stroke-width="0.8"/>
<line x1="63.5" y1="487.65" x2="65.3" y2="487.65" stroke="#999" stroke-width="0.8"/>
<line x1="63.5" y1="755.0" x2="65.3" y2="755.0" stroke="#999" stroke-width="0.8"/>
<line x1="63.5" y1="736.4" x2="65.3" y2="736.4" stroke="#999" stroke-width="0.8"/>
<line x1="63.5" y1="717.8000000000001" x2="65.3" y2="717.8000000000001" stroke="#999" stroke-width="0.8"/>
<line x1="63.5" y1="699.2" x2="65.3" y2="699.2" stroke="#999" stroke-width="0.8"/>
<line x1="63.5" y1="680.6" x2="65.3" y2="680.6" stroke="#999" stroke-width="0.8"/>
<line x1="63.5" y1="662.0" x2="65.3" y2="662.0" stroke="#999" stroke-width="0.8"/>
<line x1="63.5" y1="643.4" x2="65.3" y2="643.4" stroke="#999" stroke-width="0.8"/>
<line x1="322.9" y1="267.0" x2="324.7" y2="267.0" stroke="#999" stroke-width="0.8"/>
<line x1="322.9" y1="248.40000000000003" x2="324.7" y2="248.40000000000003" stroke="#999" stroke-width="0.8"/>
<line x1="322.9" y1="229.8" x2="324.7" y2="229.8" stroke="#999" stroke-width="0.8"/>
<line x1="322.9" y1="211.20000000000002" x2="324.7" y2="211.20000000000002" stroke="#999" stroke-width="0.8"/>
<line x1="322.9" y1="192.60000000000002" x2="324.7" y2="192.60000000000002" stroke="#999" stroke-width="0.8"/>
<line x1="322.9" y1="174.0" x2="324.7" y2="174.0" stroke="#999" stroke-width="0.8"/>
<line x1="322.9" y1="155.4" x2="324.7" y2="155.4" stroke="#999" stroke-width="0.8"/>
<line x1="332.3" y1="565.85" x2="334.1" y2="565.85" stroke="#999" stroke-width="0.8"/>
<line x1="332.3" y1="544.0" x2="334.1" y2="544.0" stroke="#999" stroke-width="0.8"/>
<line x1="332.3" y1="522.1500000000001" x2="334.1" y2="522.1500000000001" stroke="#999" stroke-width="0.8"/>
<line x1="332.3" y1="500.30000000000007" x2="334.1" y2="500.30000000000007" stroke="#999" stroke-width="0.8"/>
<line x1="332.3" y1="478.45000000000005" x2="334.1" y2="478.45000000000005" stroke="#999" stroke-width="0.8"/>
<line x1="333.2" y1="725.6" x2="335.0" y2="725.6" stroke="#999" stroke-width="0.8"/>
<line x1="333.2" y1="676.2" x2="335.0" y2="676.2" stroke="#999" stroke-width="0.8"/>
<line x1="485.8" y1="754.76" x2="484.0" y2="754.76" stroke="#999" stroke-width="0.8"/>
<line x1="485.8" y1="733.7199999999999" x2="484.0" y2="733.7199999999999" stroke="#999" stroke-width="0.8"/>
<line x1="485.8" y1="712.68" x2="484.0" y2="712.68" stroke="#999" stroke-width="0.8"/>
<line x1="485.8" y1="691.64" x2="484.0" y2="691.64" stroke="#999" stroke-width="0.8"/>
<line x1="485.8" y1="670.5999999999999" x2="484.0" y2="670.5999999999999" stroke="#999" stroke-width="0.8"/>
<line x1="485.8" y1="649.56" x2="484.0" y2="649.56" stroke="#999" stroke-width="0.8"/>
<line x1="109" y1="277.4" x2="109" y2="275.4" stroke="#666" stroke-width="0.8"/>
<line x1="155" y1="277.4" x2="155" y2="275.4" stroke="#666" stroke-width="0.8"/>
<line x1="201" y1="277.4" x2="201" y2="275.4" stroke="#666" stroke-width="0.8"/>
<line x1="105.5" y1="600.5" x2="105.5" y2="598.5" stroke="#555" stroke-width="0.8"/>
<line x1="146.8" y1="600.5" x2="146.8" y2="598.5" stroke="#555" stroke-width="0.8"/>
<line x1="188" y1="600.5" x2="188" y2="598.5" stroke="#555" stroke-width="0.8"/>
<line x1="146.5" y1="774.6" x2="146.5" y2="772.6" stroke="#666" stroke-width="0.8"/>
<line x1="390" y1="285.8" x2="390" y2="283.8" stroke="#666" stroke-width="0.8"/>
<line x1="380" y1="587.7" x2="380" y2="585.7" stroke="#666" stroke-width="0.8"/>
<line x1="383.7" y1="775.2" x2="383.7" y2="773.2" stroke="#666" stroke-width="0.8"/>
<line x1="433.6" y1="775.2" x2="433.6" y2="773.2" stroke="#666" stroke-width="0.8"/>
<defs><filter id="b1" x="-30%" y="-100%" width="160%" height="300%"><feGaussianBlur stdDeviation="0.9"/></filter><filter id="b2" x="-30%" y="-100%" width="160%" height="300%"><feGaussianBlur stdDeviation="1.5"/></filter><filter id="b0" x="-30%" y="-100%" width="160%" height="300%"><feGaussianBlur stdDeviation="0.65"/></filter></defs>
<rect x="64.00" y="375.80" width="51.90" height="13.40" fill="#c8c8c8" stroke="#1e1e1e" stroke-width="1.4"/>
<rect x="67" y="380.6" width="16.80" height="3.60" rx="2.52" ry="1.62" fill="#0a0a0a" opacity="1" filter="url(#b0)"/>
<rect x="95.5" y="380.8" width="16.50" height="3.20" rx="2.24" ry="1.44" fill="#111" opacity="1" filter="url(#b0)"/>
<rect x="64.00" y="392.90" width="51.90" height="17.90" fill="#f6f6f6" stroke="#1e1e1e" stroke-width="1.4"/>
<rect x="66.8" y="398.8" width="18.50" height="7.70" rx="5.39" ry="3.46" fill="#050505" opacity="1" filter="url(#b0)"/>
<rect x="93.4" y="400.2" width="19.50" height="4.40" rx="3.08" ry="1.98" fill="#8a8a8a" opacity="1" filter="url(#b0)"/>
<rect x="64.00" y="414.80" width="51.90" height="18.80" fill="#f6f6f6" stroke="#1e1e1e" stroke-width="1.4"/>
<rect x="67" y="423" width="19.60" height="5.20" rx="3.64" ry="2.34" fill="#3a3a3a" opacity="1" filter="url(#b0)"/>
<rect x="93.4" y="421.6" width="20.10" height="4.60" rx="3.22" ry="2.07" fill="#6e6e6e" opacity="1" filter="url(#b0)"/>
<rect x="64.00" y="437.70" width="51.90" height="17.70" fill="#f6f6f6" stroke="#1e1e1e" stroke-width="1.4"/>
<rect x="66.8" y="443.4" width="20.00" height="6.60" rx="4.62" ry="2.97" fill="#050505" opacity="1" filter="url(#b0)"/>
<rect x="92.5" y="443.4" width="20.90" height="6.60" rx="4.62" ry="2.97" fill="#050505" opacity="1" filter="url(#b0)"/>
<rect x="333.10" y="53.80" width="51.50" height="13.00" fill="#f0f0f0" stroke="#1e1e1e" stroke-width="1.4"/>
<rect x="338" y="55" width="42.00" height="2.50" rx="1.75" ry="1.12" fill="#c4c4c4" opacity="1" filter="url(#b2)"/>
<rect x="338.5" y="59" width="15.30" height="5.00" rx="3.50" ry="2.25" fill="#050505" opacity="1" filter="url(#b0)"/>
<rect x="365.5" y="60.5" width="14.50" height="2.90" rx="2.03" ry="1.30" fill="#2a2a2a" opacity="1" filter="url(#b0)"/>
<rect x="333.10" y="70.20" width="51.50" height="15.90" fill="#f6f6f6" stroke="#1e1e1e" stroke-width="1.4"/>
<rect x="338.5" y="72.5" width="14.50" height="5.50" rx="3.85" ry="2.48" fill="#222" opacity="1" filter="url(#b2)"/>
<rect x="337.5" y="74.5" width="16.80" height="7.00" rx="4.90" ry="3.15" fill="#050505" opacity="1" filter="url(#b0)"/>
<rect x="365" y="72.5" width="14.00" height="4.50" rx="3.15" ry="2.02" fill="#b0b0b0" opacity="1" filter="url(#b2)"/>
<rect x="364" y="75.2" width="16.20" height="5.40" rx="3.78" ry="2.43" fill="#4a4a4a" opacity="1" filter="url(#b0)"/>
<rect x="333.10" y="90.20" width="51.50" height="17.70" fill="#eeeeee" stroke="#1e1e1e" stroke-width="1.4"/>
<rect x="337.5" y="94.2" width="18.00" height="3.40" rx="2.38" ry="1.53" fill="#111" opacity="1" filter="url(#b0)"/>
<rect x="337.5" y="97.8" width="18.00" height="5.20" rx="3.64" ry="2.34" fill="#050505" opacity="1" filter="url(#b0)"/>
<rect x="361" y="94.2" width="20.20" height="3.40" rx="2.38" ry="1.53" fill="#111" opacity="1" filter="url(#b0)"/>
<rect x="361" y="97.8" width="20.20" height="5.20" rx="3.64" ry="2.34" fill="#050505" opacity="1" filter="url(#b0)"/>
<rect x="333.10" y="112.00" width="51.50" height="14.70" fill="#f6f6f6" stroke="#1e1e1e" stroke-width="1.4"/>
<rect x="335.5" y="115.6" width="25.00" height="8.20" rx="5.74" ry="3.69" fill="#050505" opacity="1" filter="url(#b0)"/>
<rect x="358.2" y="115.6" width="24.30" height="8.20" rx="5.74" ry="3.69" fill="#050505" opacity="1" filter="url(#b0)"/>
<rect x="333.10" y="362.40" width="51.10" height="17.20" fill="#f6f6f6" stroke="#1e1e1e" stroke-width="1.4"/>
<rect x="339" y="370.2" width="15.00" height="4.00" rx="2.80" ry="1.80" fill="#2a2a2a" opacity="1" filter="url(#b0)"/>
<rect x="361" y="366" width="21.50" height="13.00" rx="9.10" ry="5.85" fill="#808080" opacity="1" filter="url(#b2)"/>
<rect x="363.2" y="368.3" width="17.20" height="9.10" rx="6.37" ry="4.09" fill="#050505" opacity="1" filter="url(#b0)"/>
<rect x="333.10" y="382.60" width="51.10" height="18.80" fill="#f6f6f6" stroke="#1e1e1e" stroke-width="1.4"/>
<rect x="336.4" y="389.3" width="18.90" height="5.50" rx="3.85" ry="2.48" fill="#4a4a4a" opacity="1" filter="url(#b0)"/>
<rect x="360.5" y="388.4" width="21.90" height="7.20" rx="5.04" ry="3.24" fill="#050505" opacity="1" filter="url(#b0)"/>
<rect x="333.10" y="404.80" width="51.10" height="20.20" fill="#f6f6f6" stroke="#1e1e1e" stroke-width="1.4"/>
<rect x="339" y="411" width="14.00" height="2.60" rx="1.82" ry="1.17" fill="#111" opacity="1" filter="url(#b0)"/>
<rect x="364" y="411" width="15.00" height="2.60" rx="1.82" ry="1.17" fill="#111" opacity="1" filter="url(#b0)"/>
<rect x="337" y="414.7" width="18.30" height="6.50" rx="4.55" ry="2.93" fill="#050505" opacity="1" filter="url(#b0)"/>
<rect x="362" y="414.7" width="18.20" height="6.50" rx="4.55" ry="2.93" fill="#050505" opacity="1" filter="url(#b0)"/>
<rect x="333.10" y="429.10" width="51.10" height="18.10" fill="#f6f6f6" stroke="#1e1e1e" stroke-width="1.4"/>
<rect x="333.5" y="433.4" width="26.30" height="9.40" rx="6.58" ry="4.23" fill="#050505" opacity="1" filter="url(#b0)"/>
<rect x="357.5" y="433.4" width="26.50" height="9.40" rx="6.58" ry="4.23" fill="#050505" opacity="1" filter="url(#b0)"/>
<rect x="183.70" y="343.70" width="7.80" height="6.20" fill="#fff" stroke="#1a1a1a" stroke-width="1.4"/>
<text x="0" y="0" font-size="10.6" fill="#1e1e1e" stroke="#1e1e1e" stroke-width="0.2" letter-spacing="0.000" transform="translate(192.69 350.50) scale(1 1)">)</text>
<rect x="212.10" y="358.40" width="7.70" height="8.00" fill="#111" stroke="none" stroke-width="1"/>
<text x="0" y="0" font-size="10.6" fill="#1e1e1e" stroke="#1e1e1e" stroke-width="0.2" letter-spacing="0.000" transform="translate(220.59 364.60) scale(1 1)">)</text>
<rect x="445.30" y="18.30" width="8.00" height="7.90" fill="#fff" stroke="#1a1a1a" stroke-width="1.4"/>
<text x="0" y="0" font-size="10.6" fill="#1e1e1e" stroke="#1e1e1e" stroke-width="0.2" letter-spacing="0.000" transform="translate(457.09 26.40) scale(1 1)">)</text>
<rect x="451.30" y="38.50" width="8.60" height="9.00" fill="#111" stroke="none" stroke-width="1"/>
<text x="0" y="0" font-size="10.6" fill="#1e1e1e" stroke="#1e1e1e" stroke-width="0.2" letter-spacing="0.000" transform="translate(463.89 47.20) scale(1 1)">)</text>
<rect x="440.20" y="327.90" width="8.20" height="6.70" fill="#fff" stroke="#1a1a1a" stroke-width="1.4"/>
<text x="0" y="0" font-size="10.6" fill="#1e1e1e" stroke="#1e1e1e" stroke-width="0.2" letter-spacing="0.000" transform="translate(453.39 334.90) scale(1 1)">)</text>
<rect x="487.70" y="348.00" width="9.00" height="8.60" fill="#111" stroke="none" stroke-width="1"/>
<text x="0" y="0" font-size="10.6" fill="#1e1e1e" stroke="#1e1e1e" stroke-width="0.2" letter-spacing="0.000" transform="translate(499.29 356.00) scale(1 1)">)</text>
<rect x="308.80" y="638.00" width="7.90" height="7.00" fill="#ec2220" stroke="none" stroke-width="1"/>
<rect x="507.00" y="636.20" width="8.20" height="7.40" fill="#2150a6" stroke="none" stroke-width="1"/>
<text x="0" y="0" font-size="10.6" fill="#1e1e1e" stroke="#1e1e1e" stroke-width="0.2" letter-spacing="0.000" transform="translate(315.20 635.00) rotate(-90) scale(0.9 1)">)</text>
<text x="0" y="0" font-size="10.6" fill="#1e1e1e" stroke="#1e1e1e" stroke-width="0.2" letter-spacing="0.000" transform="translate(514.80 635.00) rotate(-90) scale(0.9 1)">)</text>
</svg>
</body></html>
